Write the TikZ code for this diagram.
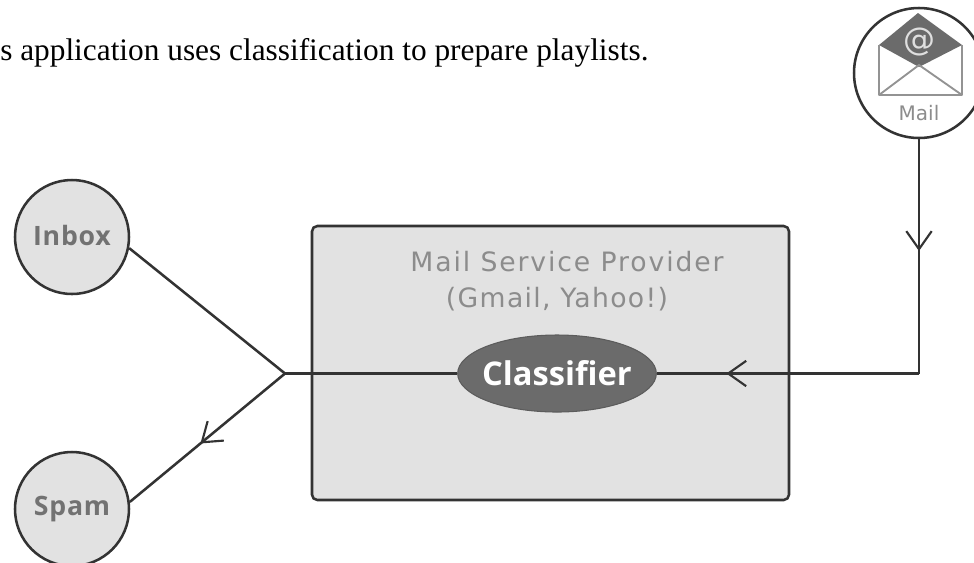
\documentclass[tikz,border=0pt]{standalone}
\usepackage{fontspec}
\setmainfont{Liberation Serif}
\setsansfont{DejaVu Sans}
\newfontfamily\labelfont[Ligatures=NoCommon]{Open Sans}
\usetikzlibrary{arrows.meta,decorations.markings,shapes.geometric}
\definecolor{boxfill}{gray}{0.885}
\definecolor{ink}{gray}{0.2}
\definecolor{txtgrey}{gray}{0.55}
\definecolor{dark}{gray}{0.42}
\tikzset{
  x=0.75pt,y=-0.75pt,
  conn/.style={draw=ink,line width=1.9pt},
  circ/.style={circle,draw=ink,line width=1.9pt,fill=boxfill,minimum size=85.5pt,inner sep=0pt,font=\labelfont\bfseries\fontsize{20}{22}\selectfont\addfontfeature{LetterSpace=3},text=dark!95},
  titletext/.style={inner sep=0pt,text=txtgrey,font=\sffamily\fontsize{20}{24}\selectfont\addfontfeature{LetterSpace=#1}},
  midbarb/.style={postaction={decorate},decoration={markings,mark=at position #1 with {\arrow[ink,line width=1.6pt]{Straight Barb[length=13.5pt,width=19pt]}}}},
}
\begin{document}
\begin{tikzpicture}
\useasboundingbox (0,0) rectangle (974,562);
\clip (0,0) rectangle (974,562);
\node[anchor=base west,inner sep=0pt,font=\fontsize{23.5}{28}\selectfont] (caption) at (0,60) {s application uses classification to prepare playlists.};
\node[draw=ink,line width=1.9pt,fill=boxfill,rounded corners=4pt,minimum width=357.75pt,minimum height=205.5pt,inner sep=0pt] (box) at (550.5,363) {};
\node[titletext=7] (title1) at (567,262) {Mail Service Provider};
\node[titletext=5] (title2) at (557,299) {(Gmail, Yahoo!)};
\node[ellipse,draw=ink!80,line width=0.8pt,fill=dark,minimum width=149pt,minimum height=57.75pt,inner sep=-10pt,text=white,font=\labelfont\bfseries\fontsize{24.5}{26}\selectfont] (classifier) at (557,373.5) {Classifier};
\node[circ] (inbox) at (72,237) {\raisebox{3pt}{Inbox}};
\node[circ] (spam) at (72,509) {Spam};
\node[circle,draw=ink,line width=1.9pt,fill=white,minimum size=97.5pt,inner sep=0pt] (mail) at (919,73) {};
\coordinate (junction) at (285,373.5);
\coordinate (corner) at (919,373.5);
% envelope
\fill[dark] (918,13) -- (962,45) -- (919,67) -- (879,45) -- cycle;
\draw[gray!85,line width=1.8pt,line join=round] (879,45) -- (879,95) -- (962,95) -- (962,45);
\draw[gray!85,line width=1.4pt] (879,95) -- (919,65) -- (962,95);
\node[inner sep=0pt,text=gray!25,font=\sffamily\fontsize{24}{26}\selectfont] (at) at (919,42) {@};
\node[inner sep=0pt,text=txtgrey,font=\sffamily\fontsize{15}{17}\selectfont] (maillabel) at (919,113) {Mail};
% connectors
\draw[conn,midbarb=0.477] (mail) -- (corner);
\draw[conn,midbarb=0.735] (corner) -- (classifier);
\draw[conn] (classifier) -- (junction);
\draw[conn] (junction) -- (inbox.-11);
\draw[conn,midbarb=0.545] (junction) -- (spam.7);
\end{tikzpicture}
\end{document}
